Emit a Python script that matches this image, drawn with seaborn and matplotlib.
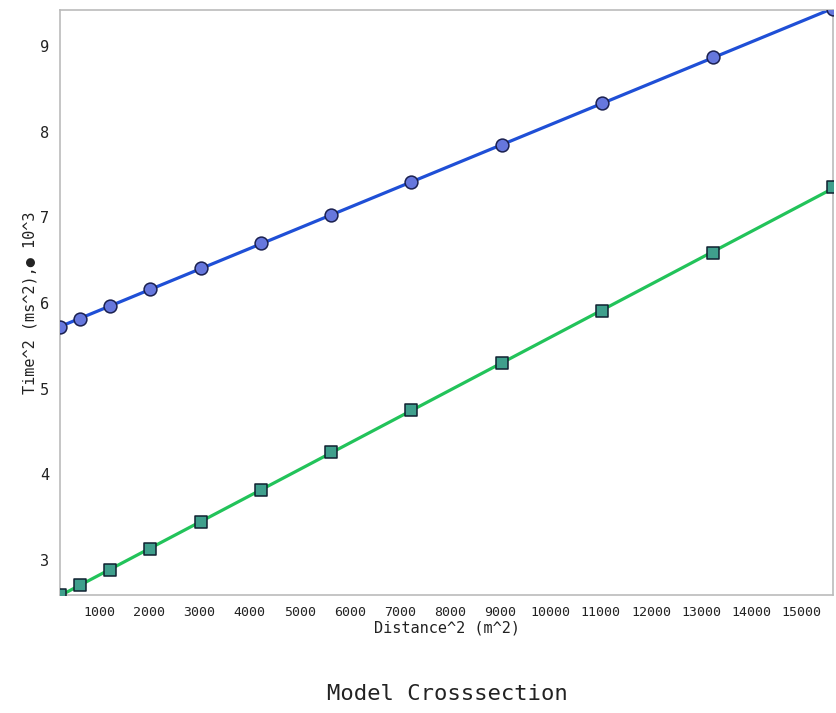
import numpy as np
import pandas as pd
import seaborn as sns
import matplotlib
matplotlib.use("Agg")
import matplotlib.pyplot as plt

# squared offsets (m^2) and squared travel times (ms^2, x10^3)
distance_sq = [225, 625, 1225, 2025, 3025, 4225, 5625, 7225, 9025, 11025, 13225, 15625]
time_sq_circles = [5.72, 5.81, 5.96, 6.16, 6.41, 6.70, 7.03, 7.41, 7.84, 8.33, 8.87, 9.43]
time_sq_squares = [2.59, 2.71, 2.88, 3.13, 3.44, 3.82, 4.26, 4.75, 5.30, 5.91, 6.58, 7.35]
x_ticks = [1000, 2000, 3000, 4000, 5000, 6000, 7000, 8000, 9000, 10000,
           11000, 12000, 13000, 14000, 15000]
y_ticks = [3, 4, 5, 6, 7, 8, 9]

df = pd.DataFrame({"x": distance_sq, "circ": time_sq_circles, "sq": time_sq_squares})

sns.set_style("white")
plt.rcParams["font.family"] = ["DejaVu Sans Mono", "DejaVu Sans"]

fig = plt.figure(figsize=(8.36, 7.13), dpi=100)
ax = fig.add_axes([0.0718, 0.1655, 0.9246, 0.8205])

# fitted lines
sns.regplot(data=df, x="x", y="circ", ax=ax, ci=None, scatter=False,
            line_kws=dict(color="#1f4fd6", lw=2.3, zorder=2))
sns.regplot(data=df, x="x", y="sq", ax=ax, ci=None, scatter=False,
            line_kws=dict(color="#22c35a", lw=2.3, zorder=2))

# data points
sns.scatterplot(data=df, x="x", y="circ", ax=ax, marker="o", s=85,
                color="#6677dd", edgecolor="#1a2050", linewidth=1.1, zorder=3)
sns.scatterplot(data=df, x="x", y="sq", ax=ax, marker="s", s=80,
                color="#3f9f8c", edgecolor="#102030", linewidth=1.1, zorder=3)

ax.set_xlim(225, 15625)
ax.set_ylim(2.59, 9.42)
ax.set_xticks(x_ticks)
ax.set_xticklabels([str(t) for t in x_ticks], fontsize=9.5)
ax.set_yticks(y_ticks)
ax.set_yticklabels([str(t) for t in y_ticks], fontsize=11)

for s in ax.spines.values():
    s.set_color("#bbbbbb")
    s.set_linewidth(1.2)
ax.tick_params(axis="both", direction="out", length=6, color="#bbbbbb",
               width=1.2, labelcolor="#222222", pad=2)

ax.set_xlabel("Distance^2 (m^2)", fontsize=11, color="#222222", labelpad=1)
ax.set_ylabel("Time^2 (ms^2),\u25cf 10^3", fontsize=11, color="#222222", labelpad=2)
fig.text(0.535, 0.012, "Model Crosssection", ha="center", va="bottom",
         fontsize=16, color="#222222")

fig.savefig("out.png", dpi=100)
